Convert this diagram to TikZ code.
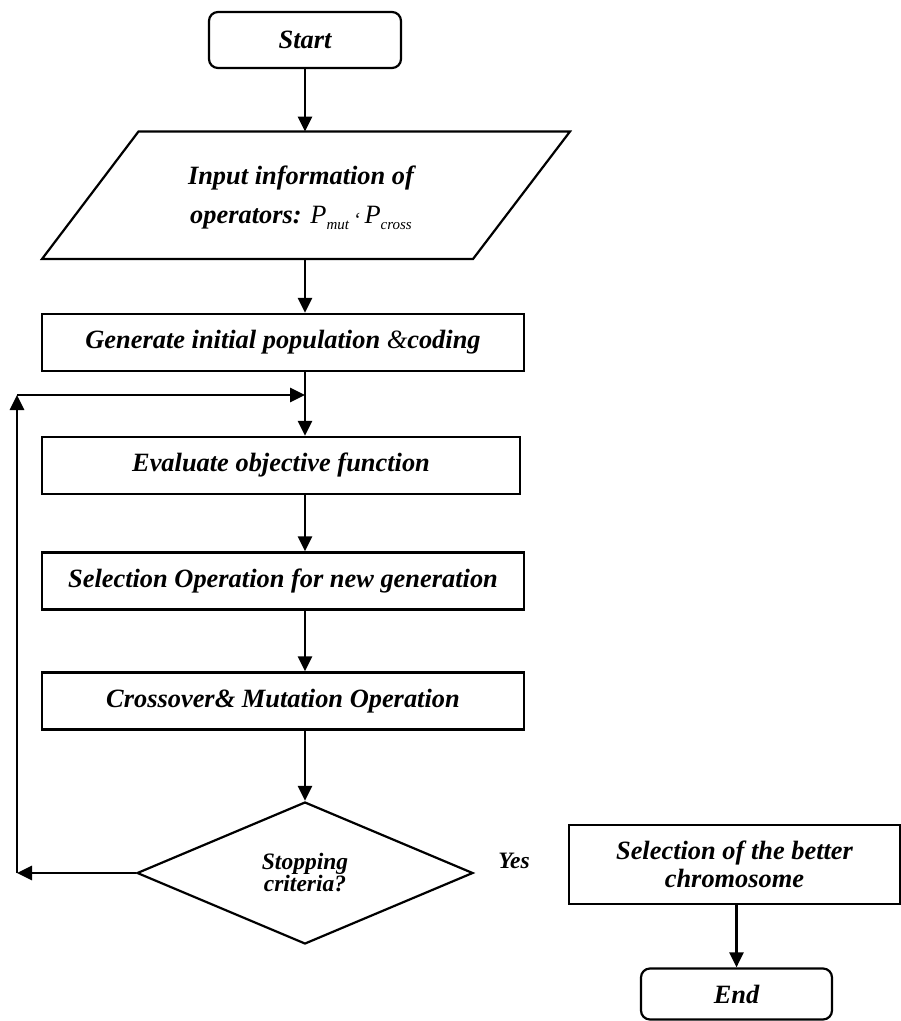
\documentclass[tikz,border=0pt]{standalone}
\usepackage{fontspec}
\setmainfont{Liberation Serif}
\usetikzlibrary{arrows.meta,shapes.geometric}
\begin{document}
\begin{tikzpicture}[x=1pt,y=-1pt,
  txt/.style={font=\fontsize{26.4}{28}\selectfont\bfseries\itshape},
  proc/.style={txt,draw,line width=2.2pt,inner sep=0pt,align=center},
  term/.style={proc,rounded corners=9pt},
  arr/.style={line width=2.7pt,-{Triangle[length=15pt,width=14pt]}},
  decision/.style={diamond,draw,line width=2.2pt,inner sep=0pt,aspect=2.37,align=center,
    font=\fontsize{23.5}{22}\selectfont\bfseries\itshape},
  lab/.style={font=\fontsize{23.5}{26}\selectfont\bfseries\itshape}]
\useasboundingbox (0,0) rectangle (901,1021);

% Start
\node[term,minimum width=192pt,minimum height=56pt] (start) at (305,40) {Start};

% input parallelogram
\coordinate (pBL) at (42,259);
\coordinate (pTL) at (138.5,131.5);
\coordinate (pTR) at (570,131.5);
\coordinate (pBR) at (473,259);
\draw[line width=2.2pt,line join=miter] (pBL) -- (pTL) -- (pTR) -- (pBR) -- cycle;
\coordinate (inpT) at (305,131.5);
\coordinate (inpB) at (305,259);
\node[txt,align=center,font=\fontsize{26.4}{39}\selectfont\bfseries\itshape] (inp) at (301,198)
  {Input information of\\operators: {\mdseries P\raisebox{-6pt}{\fontsize{15}{15}\selectfont mut}\,{\fontsize{20}{20}\selectfont\raisebox{-3pt}{‘}}\,P\raisebox{-6pt}{\fontsize{15}{15}\selectfont cross}}};

% process boxes
\node[proc,minimum width=482pt,minimum height=57pt] (gen) at (283,342.5) {Generate initial population {\mdseries\&}coding};
\node[proc,minimum width=478pt,minimum height=57pt] (eval) at (281,465.5) {Evaluate objective function};
\node[proc,minimum width=482pt,minimum height=57pt] (sel) at (283,581) {Selection Operation for new generation};
\node[proc,minimum width=482pt,minimum height=57pt] (cross) at (283,701) {Crossover\& Mutation Operation};

% decision
\node[decision,minimum width=336pt,minimum height=142pt] (dia) at (305,873) {Stopping\\criteria?};
\node[lab] (yes) at (514,861) {Yes};

% final branch
\node[proc,minimum width=331pt,minimum height=79pt] (best) at (734.5,864.5) {Selection of the better\\chromosome};
\node[term,minimum width=191pt,minimum height=51pt] (endn) at (736.5,994) {End};

% main column connectors
\draw[arr] (start.south) -- (inpT);
\draw[arr] (inpB) -- (inpB |- gen.north);
\draw[arr] (inpB |- gen.south) -- (inpB |- eval.north);
\draw[arr] (inpB |- eval.south) -- (inpB |- sel.north);
\draw[arr] (inpB |- sel.south) -- (inpB |- cross.north);
\draw[arr] (inpB |- cross.south) -- (dia.north);

% loop back
\coordinate (lb) at (17,873);
\coordinate (lt) at (17,395);
\coordinate (lj) at (305,395);
\draw[arr] (dia.west) -- (lb);
\draw[arr] (lb) -- (lt);
\draw[arr] (lt) -- (lj);

% end connector
\draw[arr] (best.south -| endn.north) -- (endn.north);
\end{tikzpicture}
\end{document}
